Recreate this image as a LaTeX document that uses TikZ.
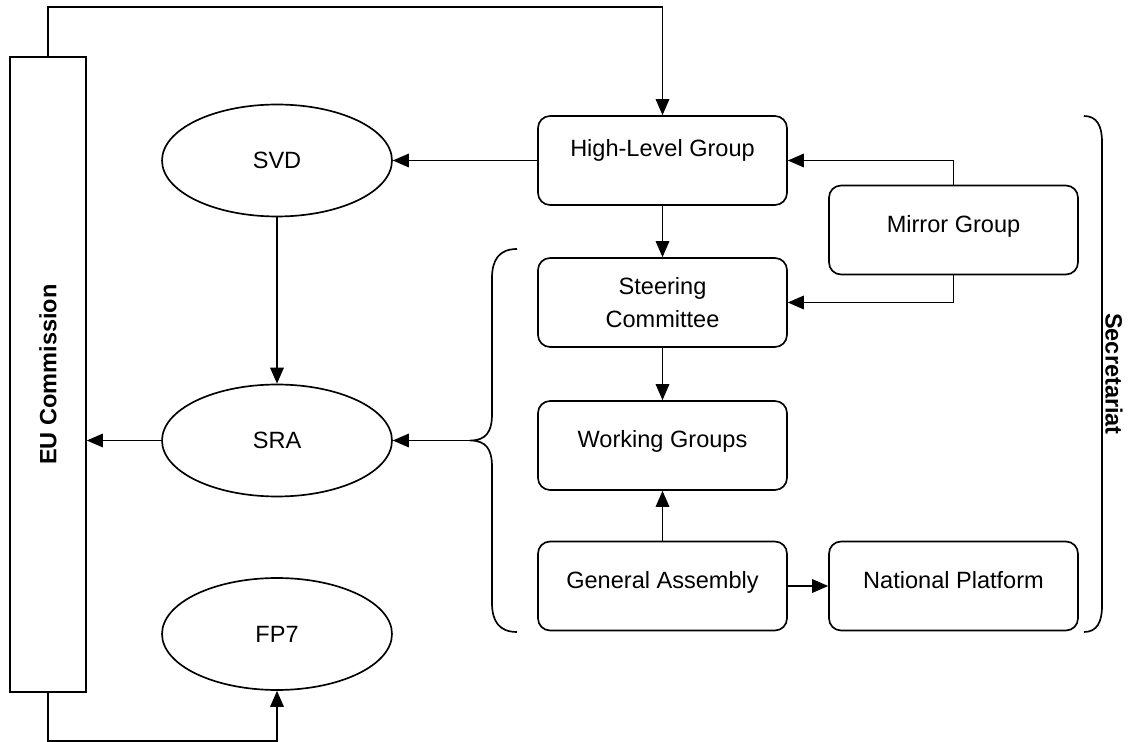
\documentclass[tikz,border=0pt]{standalone}
\usepackage{fontspec}
\setmainfont{Liberation Sans}
\usetikzlibrary{arrows.meta,shapes.geometric}

\begin{document}
\begin{tikzpicture}[x=0.02cm, y=-0.02cm, line width=0.95pt,
		font=\fontsize{13.4}{18.5}\selectfont,
		>={Triangle[length=0.32cm,width=0.27cm]},
		arr/.style={->},
		box/.style={draw, rounded corners=0.24cm, minimum width=4.98cm,
			minimum height=1.78cm, inner sep=0pt},
		onebox/.style={box, text height=26.5pt, text depth=24.1pt},
		oval/.style={draw, ellipse, minimum width=4.6cm, minimum height=2.24cm},
		eubox/.style={draw, minimum width=1.52cm, minimum height=12.7cm, inner sep=0pt}]
	\useasboundingbox (0,0) rectangle (1128,742);
	%commission
		\node[eubox] (eu) at (48,374.5) {\rotatebox{90}{\bfseries EU Commission}};
	%documents
		\node[oval] (svd) at (277,160.5) {SVD};
		\node[oval] (sra) at (277,440.5) {SRA};
		\node[oval] (fp7) at (277,634) {FP7};
	%platform bodies
		\node[onebox, text height=23pt, text depth=27.6pt] (hlg) at (662.5,160.5) {High-Level Group};
		\node[onebox] (mirror) at (953.5,230) {Mirror Group};
		\node[box, align=center] (steer) at (662.5,302.5) {Steering\\Committee};
		\node[onebox] (wg) at (662.5,445.5) {Working Groups};
		\node[onebox] (ga) at (662.5,586) {General Assembly};
		\node[onebox] (np) at (953.5,586) {National Platform};
	%left brace
		\coordinate (tip) at (470,440.5);
		\draw (517,249) .. controls (499,249) and (492,260) .. (492,278) -- (492,414)
			.. controls (492,432) and (486,440.5) .. (tip)
			.. controls (486,440.5) and (492,449) .. (492,467) -- (492,603)
			.. controls (492,621) and (499,632) .. (517,632);
	%right brace + label
		\draw (1084,116) .. controls (1097,116) and (1102,126) .. (1102,142) -- (1102,606)
			.. controls (1102,622) and (1097,632) .. (1084,632);
		\node[rotate=-90, font=\fontsize{13.4}{16}\selectfont\bfseries] (sec) at (1114,374) {Secretariat};
	%connectors
		\draw[arr] (eu.north) -- ++(0,-49) -| (hlg.north);
		\draw[arr] (eu.south) -- ++(0,48) -| (fp7.south);
		\draw[arr] (hlg) -- (svd);
		\draw[arr] (mirror.north) |- (hlg.east);
		\draw[arr] (mirror.south) |- (steer.east);
		\draw[arr] (hlg) -- (steer);
		\draw[arr] (steer) -- (wg);
		\draw[arr] (ga) -- (wg);
		\draw[arr] (ga) -- (np);
		\draw[arr] (svd) -- (sra);
		\draw[arr] (sra.west) -- (sra.west -| eu.east);
		\draw[arr] (tip) -- (sra);
\end{tikzpicture}
\end{document}
